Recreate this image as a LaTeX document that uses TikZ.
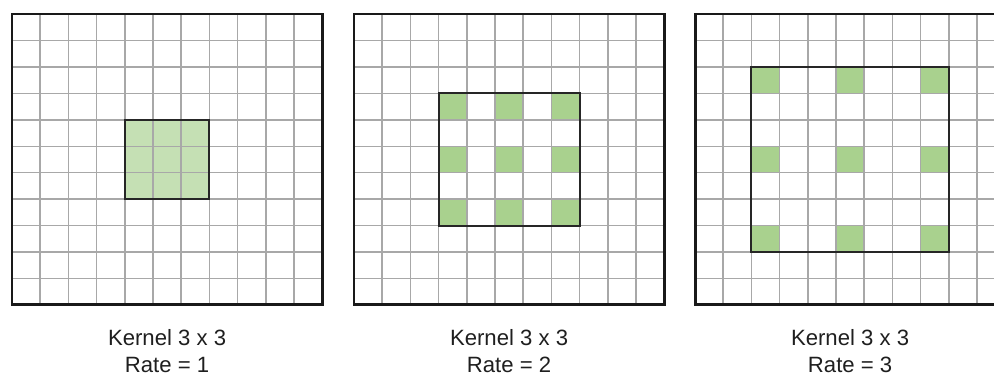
\documentclass[tikz,border=0pt]{standalone}
\usepackage{fontspec}
\setmainfont{Liberation Sans}
\usetikzlibrary{positioning}

\definecolor{kernellight}{RGB}{197,224,180}
\definecolor{kerneldark}{RGB}{169,209,142}
\newcommand{\cellw}{28.2}
\newcommand{\cellh}{26.45}

\begin{document}
\begin{tikzpicture}[
    x=0.02cm, y=-0.02cm,
    gridline/.style={draw=gray!68, line width=0.85pt},
    outerbox/.style={draw=black!90, line width=1.7pt},
    kernelbox/.style={draw=black!85, line width=1.15pt},
    caption/.style={font=\fontsize{12.6}{15.4}\selectfont, text=black!88, anchor=base}
]

    % Frame (right panel is cut off at the edge)
    \useasboundingbox (0,0) rectangle (994,379);
    \clip (0,0) rectangle (994,379);

    % Three panels: left edge / dilation rate / name
    \foreach \ox/\r/\pan in {12/1/a, 354/2/b, 695/3/c} {
        % Kernel taps
        \ifnum\r=1
            \fill[kernellight] ({\ox+4*\cellw},{14+4*\cellh}) rectangle ++({3*\cellw},{3*\cellh});
        \else
            \foreach \i in {-1,0,1}
                \foreach \j in {-1,0,1}
                    \fill[kerneldark] ({\ox+(5+\i*\r)*\cellw},{14+(5+\j*\r)*\cellh}) rectangle ++(\cellw,\cellh);
        \fi

        % Grid
        \foreach \k in {1,...,10} {
            \draw[gridline] ({\ox+\k*\cellw},14) -- ++(0,{11*\cellh});
            \draw[gridline] (\ox,{14+\k*\cellh}) -- ++({11*\cellw},0);
        }

        % Receptive field and border
        \draw[kernelbox] ({\ox+(5-\r)*\cellw},{14+(5-\r)*\cellh}) rectangle ++({(2*\r+1)*\cellw},{(2*\r+1)*\cellh});
        \draw[outerbox] (\ox,14) rectangle ++({11*\cellw},{11*\cellh});

        % Captions
        \node[caption] (kern\pan) at ({\ox+5.5*\cellw},345) {Kernel 3 x 3};
        \node[caption] (rate\pan) at ({\ox+5.5*\cellw},372) {Rate = \r};
    }

\end{tikzpicture}
\end{document}
